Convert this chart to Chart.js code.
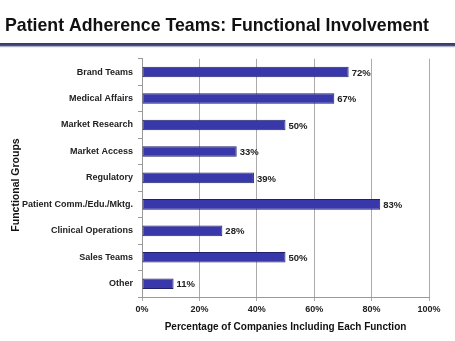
<!DOCTYPE html>
<html>
<head>
<meta charset="utf-8">
<script src="https://cdn.jsdelivr.net/npm/chart.js@4"></script>
<style>
  body { margin: 0; background: #fff; }
  #chart-container { width: 455px; height: 341px; position: relative; }
</style>
</head>
<body>
<div id="chart-container"><canvas id="myChart"></canvas></div>
<script>
var groups = ["Brand Teams", "Medical Affairs", "Market Research", "Market Access", "Regulatory",
    "Patient Comm./Edu./Mktg.", "Clinical Operations", "Sales Teams", "Other"];
var percentages = [72, 67, 50, 33, 39, 83, 28, 50, 11];
var tickValues = [0, 20, 40, 60, 80, 100];
var yTitle = 'Functional Groups';

var font = "'Liberation Sans', Arial, sans-serif";

// underline under the title, y axis title, value labels after the bars
var extras = {
    id: 'extras',
    afterDraw: function (chart) {
        var ctx = chart.ctx;
        ctx.save();
        var grad = ctx.createLinearGradient(0, 43, 0, 48);
        grad.addColorStop(0, '#2e3366');
        grad.addColorStop(0.5, '#4a4f80');
        grad.addColorStop(1, 'rgba(200,200,215,0)');
        ctx.fillStyle = grad;
        ctx.fillRect(0, 43, chart.width, 5);

        ctx.save();
        ctx.translate(16, 185);
        ctx.rotate(-Math.PI / 2);
        ctx.font = 'bold 10.5px ' + font;
        ctx.fillStyle = '#111';
        ctx.textAlign = 'center';
        ctx.textBaseline = 'middle';
        ctx.fillText(yTitle, 0, 0);
        ctx.restore();

        var meta = chart.getDatasetMeta(0);
        ctx.font = 'bold 9.5px ' + font;
        ctx.fillStyle = '#222';
        ctx.textBaseline = 'middle';
        ctx.textAlign = 'left';
        meta.data.forEach(function (bar, i) {
            ctx.fillText(percentages[i] + '%', bar.x + 3, bar.y + 1);
        });
        ctx.restore();
    }
};

var ctx = document.getElementById('myChart');
var myChart = new Chart(ctx, {
    type: 'bar',
    data: {
        labels: groups,
        datasets: [{
            data: percentages,
            backgroundColor: function (c) {
                var el = c.element;
                if (!c.chart.chartArea || !el || el.y === undefined) return '#3838aa';
                var g = c.chart.ctx.createLinearGradient(0, el.y - 5, 0, el.y + 5);
                g.addColorStop(0, '#4a4ac4');
                g.addColorStop(0.5, '#3636a8');
                g.addColorStop(1, '#25257e');
                return g;
            },
            borderColor: '#20206a',
            borderWidth: 1,
            borderSkipped: false,
            barPercentage: 0.4,
            categoryPercentage: 1
        }]
    },
    options: {
        indexAxis: 'y',
        responsive: true,
        maintainAspectRatio: false,
        animation: false,
        layout: { padding: { left: 5, right: 26, top: 0, bottom: 0 } },
        plugins: {
            legend: { display: false },
            tooltip: { enabled: false },
            title: {
                display: true,
                text: 'Patient Adherence Teams: Functional Involvement',
                align: 'start',
                color: '#111',
                font: { family: font, size: 19, weight: 'bold' },
                padding: { top: 14, bottom: 22 }
            }
        },
        scales: {
            x: {
                min: 0,
                max: 100,
                afterBuildTicks: function (scale) {
                    scale.ticks = tickValues.map(function (v) { return { value: v }; });
                },
                afterFit: function (scale) { scale.height = 44; },
                ticks: {
                    callback: function (v) { return v + '%'; },
                    color: '#222',
                    font: { family: font, size: 9, weight: 'bold' },
                    padding: 3,
                    maxRotation: 0
                },
                grid: { color: '#ababab', tickLength: 4, lineWidth: 1 },
                border: { color: '#999' },
                title: {
                    display: true,
                    text: 'Percentage of Companies Including Each Function',
                    color: '#111',
                    font: { family: font, size: 10, weight: 'bold' },
                    padding: { top: 6, bottom: 8 }
                }
            },
            y: {
                afterFit: function (scale) { scale.width = 137; },
                ticks: {
                    color: '#222',
                    font: { family: font, size: 9, weight: 'bold' },
                    padding: 5
                },
                grid: { display: true, drawOnChartArea: false, offset: true, tickLength: 4, color: '#999' },
                border: { color: '#999' }
            }
        }
    },
    plugins: [extras]
});
</script>
</body>
</html>
